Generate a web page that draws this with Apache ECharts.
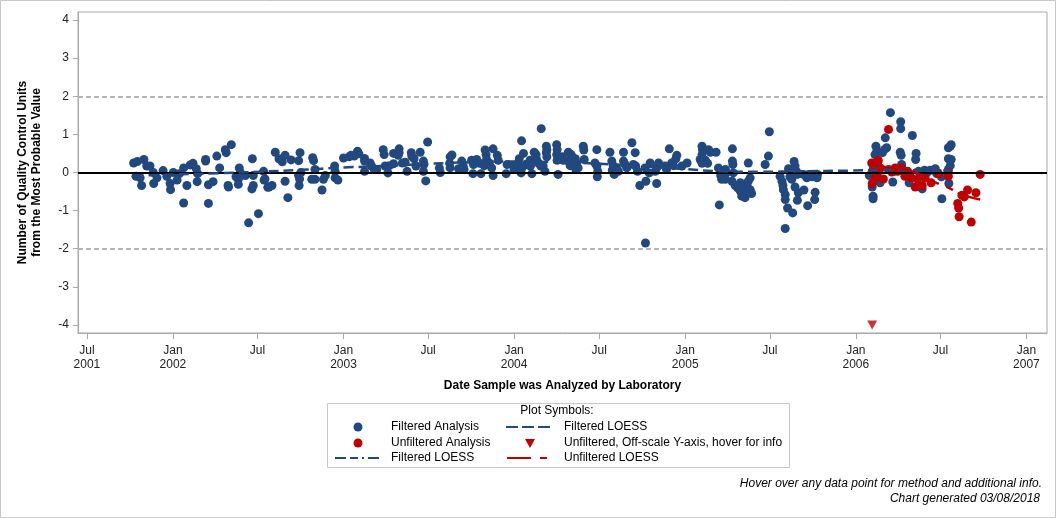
<!DOCTYPE html>
<html><head><meta charset="utf-8">
<script src="https://cdn.jsdelivr.net/npm/echarts@6/dist/echarts.min.js"></script>
<style>html,body{margin:0;padding:0;background:#fff}#c{width:1056px;height:518px}</style>
</head><body><div id="c"></div>
<script>
const xTickDates = ['2001-07-01','2002-01-01','2002-07-01','2003-01-01','2003-07-01','2004-01-01','2004-07-01','2005-01-01','2005-07-01','2006-01-01','2006-07-01','2007-01-01'];
const xTickLabels = ['Jul\n2001','Jan\n2002','Jul','Jan\n2003','Jul','Jan\n2004','Jul','Jan\n2005','Jul','Jan\n2006','Jul','Jan\n2007'];
const yTicks = [-4,-3,-2,-1,0,1,2,3,4];
const xRange = ['2001-06-12','2007-02-14'];
const yRange = [-4.21, 4.21];
const controlLimits = [2, -2];

const filteredAnalysis = [
['2001-10-09',0.25],['2001-10-17',0.29],['2001-10-31',0.34],['2001-11-06',0.17],['2001-11-13',0.17],['2001-10-14',-0.10],['2001-10-23',-0.14],['2001-10-26',-0.34],['2001-11-20',0.00],['2001-11-21',-0.29],['2001-11-28',-0.14],['2001-12-11',0.05],['2001-12-19',-0.10],['2001-12-26',-0.29],['2001-12-27',-0.45],['2002-01-02',0.00],['2002-01-10',-0.20],['2002-01-15',-0.03],['2002-01-24',0.12],['2002-01-24',-0.80],['2002-01-31',-0.34],['2002-02-07',0.20],['2002-02-13',0.24],['2002-02-20',0.10],['2002-02-23',-0.03],['2002-02-22',-0.24],['2002-03-12',0.30],['2002-03-12',0.34],['2002-03-18',-0.81],['2002-03-18',-0.32],['2002-03-28',-0.24],['2002-04-05',0.43],['2002-04-11',0.12],['2002-04-23',0.60],['2002-04-25',0.52],['2002-05-06',0.73],['2002-04-29',-0.34],['2002-04-30',-0.38],['2002-05-21',-0.18],['2002-05-21',-0.31],['2002-05-23',0.12],['2002-05-25',0.00],['2002-05-16',-0.11],['2002-06-05',-0.08],['2002-06-12',-1.32],['2002-06-20',0.36],['2002-06-22',-0.08],['2002-06-22',-0.34],['2002-06-19',-0.43],['2002-07-03',-1.08],['2002-07-15',-0.20],['2002-07-23',-0.39],['2002-07-14',0.03],
['2002-07-17',-0.17],['2002-07-26',-0.38],['2002-08-01',-0.34],['2002-08-08',0.53],['2002-08-16',0.36],['2002-08-23',0.28],['2002-08-29',0.45],['2002-08-29',-0.23],['2002-09-04',-0.66],['2002-09-11',0.33],['2002-09-27',0.31],['2002-09-27',-0.08],['2002-09-28',-0.34],['2002-09-29',-0.17],['2002-09-30',0.52],['2002-10-02',0.00],['2002-10-27',0.39],['2002-10-29',0.31],['2002-10-25',-0.18],['2002-11-01',-0.18],['2002-11-01',0.08],['2002-11-16',-0.46],['2002-11-19',-0.18],['2002-11-23',-0.08],['2002-12-13',0.17],['2002-12-14',0.03],['2002-12-14',-0.14],['2002-12-20',-0.20],['2003-01-01',0.38],['2003-01-13',0.41],['2003-01-17',0.45],['2003-01-24',0.43],['2003-01-31',0.56],['2003-02-03',0.49],['2003-02-15',0.37],['2003-02-15',0.30],['2003-02-15',0.03],['2003-02-27',0.25],['2003-03-02',0.17],['2003-03-08',0.08],['2003-03-13',0.08],['2003-03-27',0.60],['2003-03-29',0.47],['2003-04-06',-0.01],['2003-03-31',0.17],['2003-04-09',0.18],['2003-04-18',0.50],['2003-04-18',0.23],['2003-04-30',0.62],['2003-04-30',0.52],['2003-04-28',0.45],['2003-05-07',0.25],['2003-05-17',0.03],['2003-05-26',0.52],['2003-05-27',0.43],['2003-05-13',0.27],
['2003-06-01',0.36],['2003-06-14',0.53],['2003-06-21',0.30],['2003-06-22',0.21],['2003-06-05',0.17],['2003-06-30',0.80],['2003-06-21',0.03],['2003-06-26',-0.22],['2003-07-27',0.00],['2003-07-25',0.12],['2003-08-17',0.41],['2003-08-21',0.46],['2003-08-16',0.24],['2003-08-17',0.12],['2003-09-04',0.10],['2003-09-11',0.30],['2003-09-14',0.17],['2003-09-16',0.08],['2003-10-02',0.32],['2003-10-06',0.21],['2003-10-05',-0.03],['2003-10-13',0.34],['2003-10-19',0.24],['2003-10-22',-0.03],['2003-10-31',0.59],['2003-11-02',0.47],['2003-11-03',0.34],['2003-10-29',0.18],['2003-11-17',0.62],['2003-11-09',0.25],['2003-11-14',0.12],['2003-11-17',-0.08],['2003-11-26',0.45],['2003-11-28',0.32],['2003-12-15',-0.03],['2003-12-17',0.21],['2003-12-31',0.17],['2004-01-01',0.08],['2004-01-10',0.25],['2004-01-12',0.36],['2004-01-17',0.83],['2004-01-21',0.50],['2004-01-18',0.12],['2004-01-16',-0.01],['2004-01-27',0.21],['2004-02-04',0.32],['2004-02-05',0.17],['2004-02-08',-0.03],['2004-02-13',0.53],['2004-02-17',0.47],['2004-02-18',0.34],['2004-02-22',0.25],['2004-02-28',1.15],['2004-02-27',0.17],['2004-03-10',0.69],['2004-03-11',0.60],['2004-03-10',0.52],['2004-03-11',0.41],['2004-03-03',0.17],['2004-03-07',0.03],['2004-04-01',0.73],['2004-04-02',0.60],['2004-04-01',0.47],['2004-04-02',0.32],['2004-04-04',-0.05],
['2004-04-13',0.41],['2004-04-15',0.32],['2004-04-26',0.53],['2004-05-02',0.47],['2004-05-04',0.41],['2004-04-26',0.30],['2004-04-30',0.18],['2004-05-11',0.36],['2004-05-14',0.24],['2004-05-17',0.12],['2004-05-12',0.08],['2004-05-28',0.69],['2004-05-29',0.59],['2004-05-30',0.34],['2004-06-26',0.60],['2004-06-22',0.25],['2004-06-26',0.17],['2004-06-28',0.03],['2004-06-27',-0.11],['2004-07-24',0.53],['2004-07-28',0.30],['2004-07-31',0.18],['2004-07-29',0.06],['2004-08-02',-0.05],['2004-08-07',0.12],['2004-08-11',0.03],['2004-08-22',0.53],['2004-08-22',0.30],['2004-08-25',0.21],['2004-08-29',0.12],['2004-09-09',0.78],['2004-09-16',0.52],['2004-09-12',0.21],['2004-09-17',0.17],['2004-09-21',0.03],['2004-09-26',-0.34],['2004-10-07',0.12],['2004-10-09',-0.23],['2004-10-08',-1.85],['2004-10-18',0.25],['2004-10-16',-0.01],['2004-11-01',-0.29],['2004-11-01',0.12],['2004-11-05',0.25],['2004-10-29',0.03],['2004-11-19',0.17],['2004-11-22',0.08],['2004-11-28',0.62],['2004-12-03',0.25],['2004-12-07',0.18],['2004-12-14',0.45],['2004-12-12',0.36],['2004-12-25',0.17],['2005-01-05',0.25],['2005-02-06',0.69],['2005-02-07',0.60],['2005-02-06',0.47],['2005-02-02',0.34],['2005-02-06',0.24],
['2005-02-13',0.32],['2005-02-18',0.24],['2005-02-20',0.60],['2005-02-24',0.53],['2005-03-08',0.53],['2005-03-13',0.12],['2005-03-17',0.03],['2005-03-18',-0.08],['2005-03-20',-0.18],['2005-03-15',-0.85],['2005-03-28',0.08],['2005-03-30',-0.01],['2005-03-28',-0.18],['2005-04-12',0.62],['2005-04-12',0.30],['2005-04-13',0.21],['2005-04-14',-0.01],['2005-04-11',-0.23],['2005-04-18',-0.34],['2005-04-23',-0.40],['2005-04-29',-0.27],['2005-05-02',-0.38],['2005-04-29',-0.49],['2005-05-02',-0.62],['2005-05-09',-0.66],['2005-05-07',-0.46],['2005-05-13',-0.34],['2005-05-16',-0.23],['2005-05-16',0.25],['2005-05-20',-0.14],['2005-05-20',-0.45],['2005-05-23',-0.55],['2005-06-21',0.21],['2005-06-28',0.43],['2005-06-30',1.07],['2005-07-23',-0.10],['2005-07-27',-0.23],['2005-07-29',-0.34],['2005-07-30',-0.45],['2005-08-03',-0.58],['2005-08-03',-0.71],['2005-08-03',-1.47],['2005-08-08',-0.93],['2005-08-10',0.10],['2005-08-13',-0.11],['2005-08-17',-0.18],['2005-08-24',-0.38],['2005-08-24',0.17],['2005-08-22',0.29],['2005-08-27',0.03],['2005-08-29',-0.05],['2005-08-19',-1.06],['2005-08-31',-0.53],['2005-08-29',-0.73],['2005-09-12',-0.46],['2005-09-11',-0.05],['2005-09-18',-0.14],['2005-09-20',-0.87],['2005-09-22',-0.05],['2005-09-29',-0.11],['2005-10-06',-0.52],['2005-10-05',-0.71],['2005-10-10',-0.14],['2005-10-11',-0.05],
['2006-01-30',-0.08],['2006-02-05',-0.38],['2006-02-07',-0.62],['2006-02-07',-0.69],['2006-02-13',0.69],['2006-02-15',0.56],['2006-02-11',0.47],['2006-02-17',0.27],['2006-02-22',0.12],['2006-02-22',-0.27],['2006-02-27',0.52],['2006-03-03',0.60],['2006-03-08',0.65],['2006-03-05',0.91],['2006-03-16',1.57],['2006-03-21',-0.25],['2006-03-25',0.03],['2006-04-07',1.33],['2006-04-07',1.15],['2006-04-06',0.53],['2006-04-08',0.45],['2006-04-09',0.21],['2006-04-06',0.08],['2006-04-25',-0.27],['2006-05-02',0.97],['2006-05-10',0.50],['2006-05-09',0.34],['2006-05-15',0.03],['2006-05-23',-0.43],['2006-05-28',0.06],['2006-06-02',-0.01],['2006-06-09',0.06],['2006-06-20',0.10],['2006-06-23',-0.03],['2006-07-03',-0.11],['2006-07-04',-0.69],['2006-07-18',0.65],['2006-07-22',0.69],['2006-07-24',0.73],['2006-07-18',0.36],['2006-07-24',0.34],['2006-07-22',0.18],['2006-07-18',0.08],['2006-07-19',-0.29]
];

const unfilteredAnalysis = [
['2006-03-12',1.13],['2006-02-04',0.25],['2006-02-11',0.21],['2006-02-18',0.32],['2006-02-07',0.08],['2006-02-15',-0.05],['2006-02-11',-0.14],['2006-02-18',0.03],['2006-02-05',-0.29],['2006-03-01',-0.17],['2006-02-22',0.12],['2006-03-12',0.08],['2006-03-19',0.01],['2006-03-26',0.12],['2006-04-01',0.03],['2006-04-09',0.12],['2006-04-16',-0.10],['2006-04-22',0.03],['2006-04-30',-0.14],['2006-05-08',-0.38],['2006-05-13',-0.18],['2006-05-23',-0.34],['2006-05-29',-0.14],['2006-06-11',-0.27],['2006-06-27',-0.03],['2006-07-18',0.00],['2006-07-18',-0.10],['2006-08-07',-0.81],['2006-08-09',-0.93],['2006-08-10',-1.16],['2006-08-16',-0.60],['2006-08-21',-0.64],['2006-08-28',-0.46],['2006-09-05',-1.30],['2006-09-15',-0.53],['2006-09-24',-0.05]
];
const offScale = [['2006-02-05',-4]];

const filteredLoess = [
['2001-10-09',-0.09],['2002-01-01',-0.05],['2002-04-10',-0.02],['2002-07-07',0.02],['2002-09-30',0.07],['2003-01-01',0.13],['2003-04-10',0.18],['2003-07-05',0.23],['2003-09-29',0.27],['2004-01-01',0.29],['2004-04-08',0.27],['2004-07-03',0.23],['2004-09-26',0.17],['2005-01-01',0.09],['2005-03-17',0.03],['2005-06-11',0.02],['2005-09-04',0.03],['2005-12-20',0.05],['2006-02-22',0.06],['2006-07-24',0.05]
];
const filteredLoess2 = [
['2006-01-30',0.15],['2006-04-01',0.12],['2006-06-01',0.05],['2006-07-24',0.07]
];
const unfilteredLoess = [
['2006-02-01',0.17],['2006-03-12',0.13],['2006-05-02',0.03],['2006-06-05',-0.18],['2006-06-30',-0.31],['2006-07-22',-0.42],['2006-08-16',-0.58],['2006-09-24',-0.71]
];

const BLUE = '#21497f', RED = '#c00000';
const FONT = '"Liberation Sans", Arial, Helvetica, sans-serif';
const toTs = s => { const p = s.split('-').map(Number); return Date.UTC(p[0], p[1]-1, p[2]); };
const conv = arr => arr.map(d => [toTs(d[0]), d[1]]);
const xTickValues = xTickDates.map(toTs);

const chart = echarts.init(document.getElementById('c'), null, {renderer: 'canvas'});
const txt = (text, x, y, extra) => ({type:'text', silent:true, style: Object.assign({text, x, y, fill:'#000', font:'12px ' + FONT, textAlign:'left', align:'left', textVerticalAlign:'middle', verticalAlign:'middle'}, extra||{})});

chart.setOption({
  animation: false,
  backgroundColor: '#fff',
  textStyle: {fontFamily: FONT},
  grid: {left: 78, top: 12, right: 9, bottom: 185, show: true, borderColor: '#a8a8a8', borderWidth: 1, containLabel: false},
  xAxis: {
    type: 'value', min: toTs(xRange[0]), max: toTs(xRange[1]),
    name: 'Date Sample was Analyzed by Laboratory', nameLocation: 'middle', nameGap: 47,
    nameTextStyle: {fontWeight: 'bold', fontSize: 12, color: '#000', fontFamily: FONT},
    axisLine: {show: true, onZero: false, lineStyle: {color: '#a8a8a8'}},
    axisTick: {show: true, length: 6, lineStyle: {color: '#a8a8a8'}, customValues: xTickValues},
    axisLabel: {customValues: xTickValues, fontSize: 12, color: '#222', lineHeight: 14, margin: 11, fontFamily: FONT,
      formatter: v => { const i = xTickValues.indexOf(v); return i >= 0 ? xTickLabels[i] : ''; }},
    splitLine: {show: false}
  },
  yAxis: {
    type: 'value', min: yRange[0], max: yRange[1],
    name: 'Number of Quality Control Units\nfrom the Most Probable Value', nameLocation: 'middle', nameGap: 34, nameRotate: 90,
    nameTextStyle: {fontWeight: 'bold', fontSize: 12, color: '#000', lineHeight: 14, fontFamily: FONT},
    axisLine: {show: true, onZero: false, lineStyle: {color: '#a8a8a8'}},
    axisTick: {show: true, length: 5, lineStyle: {color: '#a8a8a8'}, customValues: yTicks},
    axisLabel: {customValues: yTicks, fontSize: 12, color: '#222', margin: 9, fontFamily: FONT, formatter: v => String(Math.round(v))},
    splitLine: {show: false}
  },
  series: [
    {type: 'scatter', name: 'ref', data: [], z: 1, silent: true,
     markLine: {silent: true, symbol: ['none','none'], label: {show: false}, animation: false,
       data: [
         {yAxis: controlLimits[0], lineStyle: {type: [5,3], color: '#b4b4b4', width: 2}},
         {yAxis: controlLimits[1], lineStyle: {type: [5,3], color: '#b4b4b4', width: 2}},
         {yAxis: 0, lineStyle: {type: 'solid', color: '#000', width: 2}}
       ]}},
    {type: 'scatter', name: 'Filtered Analysis', data: conv(filteredAnalysis), symbol: 'circle', symbolSize: 9, z: 3,
     itemStyle: {color: BLUE, opacity: 1}},
    {type: 'scatter', name: 'Unfiltered Analysis', data: conv(unfilteredAnalysis), symbol: 'circle', symbolSize: 9, z: 4,
     itemStyle: {color: RED, opacity: 1}},
    {type: 'scatter', name: 'Unfiltered, Off-scale Y-axis', data: conv(offScale), symbol: 'triangle', symbolRotate: 180, symbolSize: [10, 9], z: 4,
     itemStyle: {color: RED}},
    {type: 'line', name: 'Filtered LOESS', data: conv(filteredLoess), smooth: 0.4, showSymbol: false, symbol: 'none', z: 5,
     lineStyle: {color: BLUE, width: 2.5, type: [10, 5]}},
    {type: 'line', name: 'Filtered LOESS 2', data: conv(filteredLoess2), smooth: 0.4, showSymbol: false, symbol: 'none', z: 5,
     lineStyle: {color: BLUE, width: 2.5, type: [10, 4, 7, 4, 2, 4]}},
    {type: 'line', name: 'Unfiltered LOESS', data: conv(unfilteredLoess), smooth: 0.4, showSymbol: false, symbol: 'none', z: 6,
     lineStyle: {color: RED, width: 2.5, type: [72, 8, 7, 6]}}
  ],
  graphic: [
    {type: 'rect', silent: true, shape: {x: 0.5, y: 0.5, width: 1055, height: 517}, style: {fill: 'none', stroke: '#c8c8c8', lineWidth: 1}},
    {type: 'rect', silent: true, shape: {x: 327.5, y: 403.5, width: 462, height: 64}, style: {fill: 'none', stroke: '#c8c8c8', lineWidth: 1}},
    txt('Plot Symbols:', 557, 411, {textAlign: 'center', align: 'center'}),
    {type: 'circle', silent: true, shape: {cx: 358, cy: 427, r: 4.5}, style: {fill: BLUE}},
    txt('Filtered Analysis', 391, 427),
    {type: 'line', silent: true, shape: {x1: 506, y1: 427, x2: 551, y2: 427}, style: {stroke: BLUE, lineWidth: 2, lineDash: [12, 4]}},
    txt('Filtered LOESS', 564, 427),
    {type: 'circle', silent: true, shape: {cx: 358, cy: 443, r: 4.5}, style: {fill: RED}},
    txt('Unfiltered Analysis', 391, 443),
    {type: 'polygon', silent: true, shape: {points: [[525, 439], [535, 439], [530, 448]]}, style: {fill: RED}},
    txt('Unfiltered, Off-scale Y-axis, hover for info', 564, 443),
    {type: 'line', silent: true, shape: {x1: 335, y1: 458, x2: 382, y2: 458}, style: {stroke: BLUE, lineWidth: 2, lineDash: [11, 4, 8, 4, 2, 4]}},
    txt('Filtered LOESS', 391, 458),
    {type: 'line', silent: true, shape: {x1: 507, y1: 458, x2: 531, y2: 458}, style: {stroke: RED, lineWidth: 2}},
    {type: 'line', silent: true, shape: {x1: 540, y1: 458, x2: 547, y2: 458}, style: {stroke: RED, lineWidth: 2}},
    txt('Unfiltered LOESS', 564, 458),
    txt('Hover over any data point for method and additional info.', 1042, 484, {textAlign: 'right', align: 'right', font: 'italic 12px ' + FONT}),
    txt('Chart generated 03/08/2018', 1040, 499, {textAlign: 'right', align: 'right', font: 'italic 12px ' + FONT})
  ]
});
</script>
</body></html>
